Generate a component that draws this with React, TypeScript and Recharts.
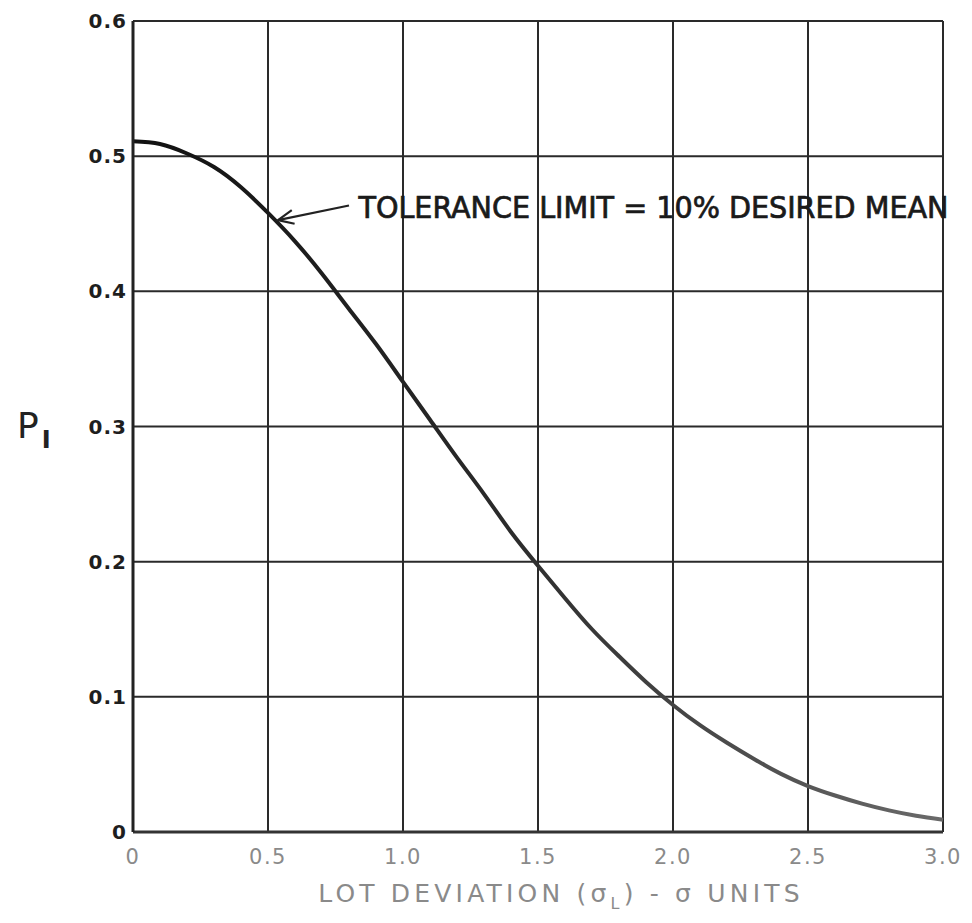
import React from "react";
import {
  CartesianGrid,
  Line,
  LineChart,
  ReferenceDot,
  ReferenceLine,
  XAxis,
  YAxis,
} from "recharts";

// lot deviation in sigma units
const deviation = [
  0, 0.1, 0.2, 0.3, 0.4, 0.5, 0.6, 0.7, 0.8, 0.9, 1.0, 1.1, 1.2, 1.3, 1.4, 1.5,
  1.6, 1.7, 1.8, 1.9, 2.0, 2.1, 2.2, 2.3, 2.4, 2.5, 2.6, 2.7, 2.8, 2.9, 3.0,
];
// P1
const p1 = [
  0.511, 0.509, 0.502, 0.492, 0.477, 0.458, 0.437, 0.413, 0.387, 0.361, 0.333,
  0.305, 0.277, 0.25, 0.222, 0.197, 0.173, 0.15, 0.13, 0.111, 0.094, 0.079,
  0.066, 0.054, 0.043, 0.034, 0.027, 0.021, 0.016, 0.012, 0.009,
];
const xTicks = [0, 0.5, 1.0, 1.5, 2.0, 2.5, 3.0];
const yTicks = [0, 0.1, 0.2, 0.3, 0.4, 0.5, 0.6];
const curveLabel = "TOLERANCE LIMIT = 10% DESIRED MEAN";
const arrowTip = { x: 0.537, y: 0.4527 };
const arrowTail = { x: 0.8, y: 0.4635 };
const labelAt = { x: 0.835, y: 0.463 };

const data = deviation.map((d, i) => ({ d, p: p1[i] }));

const fmtX = (v: number) => (v === 0 ? "0" : v.toFixed(1));
const fmtY = (v: number) => (v === 0 ? "0" : v.toFixed(1));

const XTitle = (props: any) => {
  const vb = props.viewBox || {};
  const cx = vb.x + vb.width / 2;
  return (
    <text
      x={cx + 23}
      y={vb.y + 70}
      textAnchor="middle"
      fill="#8a8a8a"
      fontSize={25}
      fontFamily="DejaVu Sans"
      letterSpacing={4.2}
    >
      LOT DEVIATION (σ
      <tspan fontSize={16} dy={7}>L</tspan>
      <tspan dy={-7}>) - σ UNITS</tspan>
    </text>
  );
};

const YTitle = () => (
  <text x={17} y={438} fill="#222" fontFamily="DejaVu Sans" fontSize={36}>
    P
    <tspan fontSize={24} dy={10} dx={3} fontWeight={600}>I</tspan>
  </text>
);

const ArrowHead = (props: any) => {
  const { cx, cy } = props;
  if (cx == null) return null;
  const ang = Math.atan2(-15, 72);
  const len = 17;
  const spread = 0.42;
  const p1x = cx + len * Math.cos(ang + spread);
  const p1y = cy + len * Math.sin(ang + spread);
  const p2x = cx + len * Math.cos(ang - spread);
  const p2y = cy + len * Math.sin(ang - spread);
  return (
    <path
      d={`M${p1x},${p1y} L${cx},${cy} L${p2x},${p2y}`}
      fill="none"
      stroke="#222"
      strokeWidth={2.2}
    />
  );
};

const CurveText = (props: any) => {
  const { cx, cy } = props;
  if (cx == null) return null;
  return (
    <text
      x={cx}
      y={cy + 12}
      fill="#1a1a1a"
      stroke="#1a1a1a"
      strokeWidth={0.7}
      fontFamily="DejaVu Sans Condensed"
      fontSize={30}
      textLength={590}
      lengthAdjust="spacingAndGlyphs"
    >
      {curveLabel}
    </text>
  );
};

export default function App() {
  return (
    <div style={{ position: "absolute", left: 0, top: 0, background: "#fff" }}>
      <LineChart
        width={972}
        height={923}
        data={data}
        margin={{ top: 21, right: 29, bottom: 0, left: 0 }}
      >
        <defs>
          <linearGradient id="curveFade" x1="0" y1="0" x2="1" y2="0">
            <stop offset="0%" stopColor="#111" />
            <stop offset="45%" stopColor="#2a2a2a" />
            <stop offset="100%" stopColor="#6a6a6a" />
          </linearGradient>
        </defs>
        <CartesianGrid stroke="#2a2a2a" strokeWidth={2} strokeOpacity={1} />
        <XAxis
          dataKey="d"
          type="number"
          domain={[0, 3]}
          ticks={xTicks}
          tickFormatter={fmtX}
          height={91}
          tickLine={false}
          tickSize={0}
          tickMargin={17}
          axisLine={{ stroke: "#333", strokeWidth: 3 }}
          tick={{
            fill: "#8a8a8a",
            fontSize: 21,
            fontFamily: "DejaVu Sans",
            letterSpacing: 1.5,
          }}
          label={<XTitle />}
        />
        <YAxis
          type="number"
          domain={[0, 0.6]}
          ticks={yTicks}
          tickFormatter={fmtY}
          width={133}
          tickLine={false}
          tickSize={0}
          tickMargin={6}
          axisLine={{ stroke: "#222", strokeWidth: 3 }}
          tick={{
            fill: "#1e1e1e",
            fontSize: 20,
            fontFamily: "DejaVu Sans",
            fontWeight: 600,
            letterSpacing: 1,
          }}
          label={<YTitle />}
        />
        <Line
          type="natural"
          dataKey="p"
          stroke="url(#curveFade)"
          strokeWidth={4}
          dot={false}
          isAnimationActive={false}
        />
        <ReferenceLine
          segment={[arrowTip, arrowTail]}
          stroke="#222"
          strokeWidth={2.2}
        />
        <ReferenceDot x={arrowTip.x} y={arrowTip.y} r={0} shape={ArrowHead} />
        <ReferenceDot x={labelAt.x} y={labelAt.y} r={0} shape={CurveText} />
      </LineChart>
    </div>
  );
}
